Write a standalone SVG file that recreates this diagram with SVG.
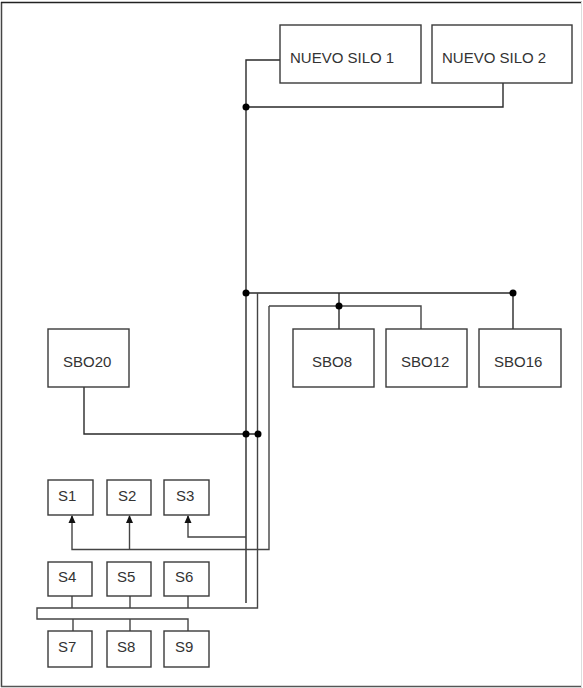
<svg xmlns="http://www.w3.org/2000/svg" width="583" height="688" viewBox="0 0 583 688">
<defs>
<style>
.box rect{fill:#fff;stroke:#3a3a3a;stroke-width:1.4}
.box text{font-family:"Liberation Sans",Arial,sans-serif;font-size:15px;fill:#333}
.ln{fill:none;stroke:#2a2a2a;stroke-width:1.4}
.g{stroke:#444}
.dot{fill:#000}
</style>
<marker id="ah" viewBox="0 0 8 8" refX="7" refY="4" markerWidth="8" markerHeight="8" markerUnits="userSpaceOnUse" orient="auto">
<path d="M0,0.5 L8,4 L0,7.5 Z" fill="#111"/>
</marker>
</defs>
<rect x="0" y="0" width="583" height="688" fill="#fff"/>
<g id="frame">
<line x1="1.5" y1="2" x2="1.5" y2="687" stroke="#444" stroke-width="1.5"/>
<line x1="1" y1="2.5" x2="582" y2="2.5" stroke="#222" stroke-width="1.5"/>
<line x1="1" y1="686.5" x2="582" y2="686.5" stroke="#555" stroke-width="1.5"/>
<line x1="581.5" y1="2" x2="581.5" y2="687" stroke="#ddd" stroke-width="1"/>
</g>
<g id="connectors">
<path class="ln" d="M280,60 H246 V603"/>
<path class="ln" d="M246,107 H503 V83"/>
<path class="ln" d="M246,293 H513 V329"/>
<path class="ln" d="M339,293 V329"/>
<path class="ln g" d="M257.5,293 V608 H37 V619 H188 V631"/>
<path class="ln g" d="M269,306 H421 V329"/>
<path class="ln g" d="M269,306 V549.5 H72 V516" marker-end="url(#ah)"/>
<path class="ln g" d="M129.5,549.5 V516" marker-end="url(#ah)"/>
<path class="ln g" d="M246,537 H188 V516" marker-end="url(#ah)"/>
<path class="ln" d="M84,387 V434 H257.5"/>
<path class="ln g" d="M72,596 V608 M130,596 V608 M188,596 V608"/>
<path class="ln g" d="M73,619 V631 M130,619 V631"/>
<circle class="dot" cx="246" cy="107" r="3.5"/>
<circle class="dot" cx="246" cy="293" r="3.5"/>
<circle class="dot" cx="513" cy="293" r="3.5"/>
<circle class="dot" cx="339" cy="306" r="3.5"/>
<circle class="dot" cx="246" cy="434" r="3.5"/>
<circle class="dot" cx="258" cy="434" r="3.5"/>
</g>
<g id="nuevo-silo-1" class="box"><rect x="280" y="25" width="141" height="58"/><text x="290" y="63">NUEVO SILO 1</text></g>
<g id="nuevo-silo-2" class="box"><rect x="432" y="25" width="140" height="58"/><text x="442" y="63">NUEVO SILO 2</text></g>
<g id="sbo8" class="box"><rect x="293" y="329" width="81" height="58"/><text x="312" y="367">SBO8</text></g>
<g id="sbo12" class="box"><rect x="386" y="329" width="81" height="58"/><text x="401" y="367">SBO12</text></g>
<g id="sbo16" class="box"><rect x="479" y="329" width="82" height="58"/><text x="494" y="367">SBO16</text></g>
<g id="sbo20" class="box"><rect x="48" y="329" width="81" height="58"/><text x="63" y="367">SBO20</text></g>
<g id="s1" class="box"><rect x="48" y="480" width="45" height="35"/><text x="58" y="501">S1</text></g>
<g id="s2" class="box"><rect x="107" y="480" width="44" height="35"/><text x="118" y="501">S2</text></g>
<g id="s3" class="box"><rect x="164" y="480" width="45" height="35"/><text x="176" y="501">S3</text></g>
<g id="s4" class="box"><rect x="48" y="562" width="44" height="34"/><text x="58" y="582">S4</text></g>
<g id="s5" class="box"><rect x="107" y="562" width="44" height="34"/><text x="117" y="582">S5</text></g>
<g id="s6" class="box"><rect x="164" y="562" width="45" height="34"/><text x="175" y="582">S6</text></g>
<g id="s7" class="box"><rect x="48" y="631" width="44" height="36"/><text x="58" y="652">S7</text></g>
<g id="s8" class="box"><rect x="107" y="631" width="44" height="36"/><text x="117" y="652">S8</text></g>
<g id="s9" class="box"><rect x="164" y="631" width="45" height="36"/><text x="175" y="652">S9</text></g>
</svg>
